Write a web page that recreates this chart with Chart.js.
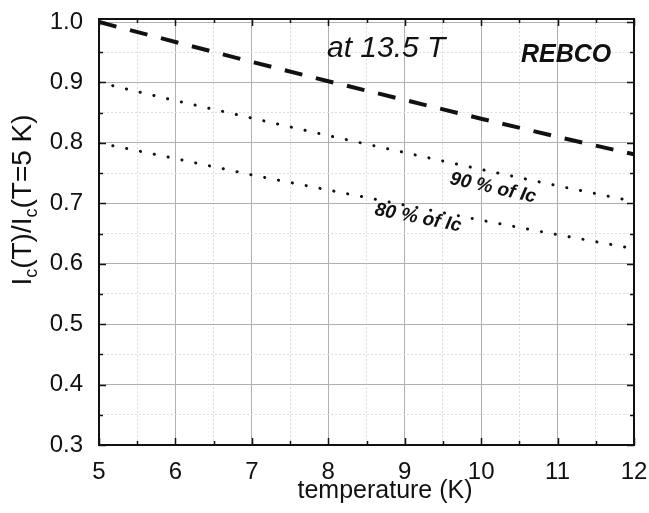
<!DOCTYPE html>
<html>
<head>
<meta charset="utf-8">
<script src="https://cdn.jsdelivr.net/npm/chart.js@4.4.1/dist/chart.umd.min.js"></script>
<style>
  body { margin: 0; background: #fff; }
  #wrap { width: 649px; height: 513px; }
</style>
</head>
<body>
<div id="wrap"><canvas id="mycanvas" width="649" height="513"></canvas></div>
<script>
// temperature (K) and normalised critical current
var temps = [5, 6, 7, 8, 9, 10, 11, 12];
var icRatio = [1.0, 0.967, 0.934, 0.902, 0.871, 0.840, 0.810, 0.781];
var ic90 = [0.900, 0.870, 0.841, 0.812, 0.784, 0.756, 0.729, 0.703];
var ic80 = [0.800, 0.774, 0.747, 0.722, 0.697, 0.672, 0.648, 0.625];

// axis ticks (majors carry labels, minors only grid)
var xTicks = [5, 5.5, 6, 6.5, 7, 7.5, 8, 8.5, 9, 9.5, 10, 10.5, 11, 11.5, 12];
var yTicks = [0.3, 0.35, 0.4, 0.45, 0.5, 0.55, 0.6, 0.65, 0.7, 0.75, 0.8, 0.85, 0.9, 0.95, 1.0];

var FONT = '"Liberation Sans", Arial, sans-serif';

function toPoints(ys) {
  var pts = [];
  for (var i = 0; i < temps.length; i++) pts.push({ x: temps[i], y: ys[i] });
  return pts;
}
function isMajorX(v) { return Math.abs(v - Math.round(v)) < 1e-6; }
function isMajorY(v) { return Math.abs(v * 10 - Math.round(v * 10)) < 1e-6; }

// frame, inward ticks on all sides, axis titles and labels inside the plot
var extras = {
  id: 'extras',
  afterDraw: function(chart) {
    var ctx = chart.ctx;
    var a = chart.chartArea;
    var xs = chart.scales.x, ys = chart.scales.y;
    ctx.save();
    ctx.strokeStyle = '#111';
    ctx.lineWidth = 1.5;
    ctx.beginPath();
    xs.ticks.forEach(function(t) {
      var px = Math.round(xs.getPixelForValue(t.value)) + 0.5;
      var len = isMajorX(t.value) ? 7 : 4;
      ctx.moveTo(px, a.bottom); ctx.lineTo(px, a.bottom - len);
      ctx.moveTo(px, a.top); ctx.lineTo(px, a.top + len);
    });
    ys.ticks.forEach(function(t) {
      var py = Math.round(ys.getPixelForValue(t.value)) + 0.5;
      var len = isMajorY(t.value) ? 7 : 4;
      ctx.moveTo(a.left, py); ctx.lineTo(a.left + len, py);
      ctx.moveTo(a.right, py); ctx.lineTo(a.right - len, py);
    });
    ctx.stroke();

    ctx.lineWidth = 2;
    ctx.strokeRect(a.left, a.top, a.right - a.left, a.bottom - a.top);

    ctx.fillStyle = '#111';
    ctx.textBaseline = 'alphabetic';

    // x title
    ctx.font = '25px ' + FONT;
    ctx.textAlign = 'center';
    ctx.fillText('temperature (K)', 385, 498);

    // y title with subscripts
    var parts = [['I', 0], ['c', 1], ['(T)/I', 0], ['c', 1], ['(T=5 K)', 0]];
    var mainFont = '28px ' + FONT, subFont = '18px ' + FONT;
    var total = 0;
    parts.forEach(function(p) {
      ctx.font = p[1] ? subFont : mainFont;
      total += ctx.measureText(p[0]).width;
    });
    ctx.save();
    ctx.translate(21, 200);
    ctx.rotate(-Math.PI / 2);
    ctx.textAlign = 'left';
    var pos = -total / 2;
    parts.forEach(function(p) {
      ctx.font = p[1] ? subFont : mainFont;
      ctx.fillText(p[0], pos, p[1] ? 16 : 10);
      pos += ctx.measureText(p[0]).width;
    });
    ctx.restore();

    // labels inside the plot
    ctx.textAlign = 'left';
    ctx.font = 'italic 30px ' + FONT;
    ctx.fillText('at 13.5 T', 327, 57);
    ctx.font = 'italic bold 25px ' + FONT;
    ctx.fillText('REBCO', 521, 62);

    ctx.textAlign = 'center';
    ctx.textBaseline = 'middle';
    ctx.font = 'italic bold 19px ' + FONT;
    ctx.save();
    ctx.translate(493, 188);
    ctx.rotate(12.5 * Math.PI / 180);
    ctx.fillText('90 % of Ic', 0, 0);
    ctx.restore();
    ctx.save();
    ctx.translate(418, 218);
    ctx.rotate(11 * Math.PI / 180);
    ctx.fillText('80 % of Ic', 0, 0);
    ctx.restore();

    ctx.restore();
  }
};

var chartdata = {
  datasets: [
    {
      label: 'Ic(T)/Ic(5 K)',
      data: toPoints(icRatio),
      borderColor: '#111',
      borderWidth: 4,
      borderDash: [18, 14],
      pointRadius: 0,
      fill: false
    },
    {
      label: '90 % of Ic',
      data: toPoints(ic90),
      borderColor: '#111',
      borderWidth: 3,
      borderDash: [0.1, 14],
      borderCapStyle: 'round',
      pointRadius: 0,
      fill: false
    },
    {
      label: '80 % of Ic',
      data: toPoints(ic80),
      borderColor: '#111',
      borderWidth: 3,
      borderDash: [0.1, 14],
      borderCapStyle: 'round',
      pointRadius: 0,
      fill: false
    }
  ]
};

var ctx = document.getElementById('mycanvas');
var lineGraph = new Chart(ctx, {
  type: 'line',
  data: chartdata,
  options: {
    responsive: false,
    animation: false,
    layout: { padding: { top: 19, right: 15, left: 0, bottom: 0 } },
    plugins: { legend: { display: false }, tooltip: { enabled: false } },
    scales: {
      x: {
        type: 'linear',
        min: 5,
        max: 12,
        afterBuildTicks: function(scale) {
          scale.ticks = xTicks.map(function(v) { return { value: v }; });
        },
        afterFit: function(scale) {
          scale.height = 68;
          scale.paddingLeft = 0;
          scale.paddingRight = 0;
        },
        ticks: {
          autoSkip: false,
          maxRotation: 0,
          padding: 13,
          color: '#111',
          font: { family: FONT, size: 24 },
          callback: function(v) { return isMajorX(v) ? String(Math.round(v)) : ''; }
        },
        grid: {
          drawTicks: false,
          color: function(c) { return c.tick && isMajorX(c.tick.value) ? '#b0b0b0' : '#dedede'; },
          lineWidth: 1
        },
        border: {
          display: false,
          dash: function(c) { return c.tick && !isMajorX(c.tick.value) ? [2, 2] : []; }
        }
      },
      y: {
        type: 'linear',
        min: 0.3,
        max: 1.005,
        afterBuildTicks: function(scale) {
          scale.ticks = yTicks.map(function(v) { return { value: v }; });
        },
        afterFit: function(scale) {
          scale.width = 99;
          scale.paddingTop = 0;
          scale.paddingBottom = 0;
        },
        ticks: {
          autoSkip: false,
          padding: 16,
          color: '#111',
          font: { family: FONT, size: 24 },
          callback: function(v) { return isMajorY(v) ? v.toFixed(1) : ''; }
        },
        grid: {
          drawTicks: false,
          color: function(c) { return c.tick && isMajorY(c.tick.value) ? '#b0b0b0' : '#dedede'; },
          lineWidth: 1
        },
        border: {
          display: false,
          dash: function(c) { return c.tick && !isMajorY(c.tick.value) ? [2, 2] : []; }
        }
      }
    }
  },
  plugins: [extras]
});
</script>
</body>
</html>
